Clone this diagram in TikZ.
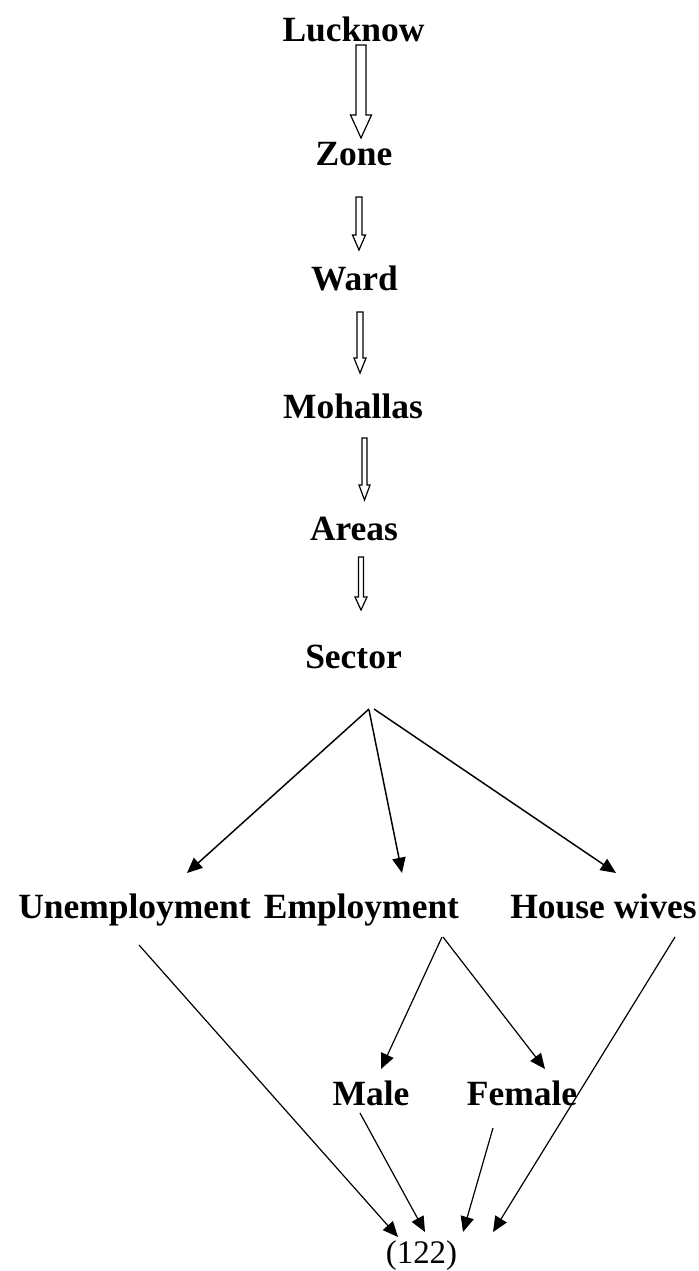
\documentclass[tikz,border=0pt]{standalone}
\usepackage{fontspec}
\setmainfont{Liberation Serif}
\usetikzlibrary{arrows.meta,calc}

% hollow downward block arrow: #1 top, #2 tip, #3 shaft half width,
% #4 head half width, #5 head length
\newcommand\hollowdown[5]{%
  \draw[hollow] ($(#1)+(-#3,0)$) -- ($(#1)+(#3,0)$) -- ($(#2)+(#3,-#5)$)
    -- ($(#2)+(#4,-#5)$) -- (#2) -- ($(#2)+(-#4,-#5)$)
    -- ($(#2)+(-#3,-#5)$) -- cycle;}

\begin{document}
\begin{tikzpicture}[x=0.75pt,y=-0.75pt,
  level/.style={font=\fontsize{26.6}{30}\selectfont\bfseries, inner sep=0pt, anchor=base},
  pagenum/.style={font=\fontsize{24.7}{28}\selectfont, inner sep=0pt, anchor=base},
  link/.style={line width=0.9pt, -{Triangle[length=11.5pt,width=10pt]}},
  thicklink/.style={link, line width=1.1pt},
  hollow/.style={line width=0.9pt, line join=miter}]

\useasboundingbox (0,0) rectangle (699,1271);

% hierarchy labels
\node[level] (lucknow)  at (353.5,41)  {Lucknow};
\node[level] (zone)     at (354,165)   {Zone};
\node[level] (ward)     at (354.5,290) {Ward};
\node[level] (mohallas) at (353,418)   {Mohallas};
\node[level] (areas)    at (354,540)   {Areas};
\node[level] (sector)   at (353.5,668) {Sector};

\node[level] (unemp)  at (134.5,918) {Unemployment};
\node[level] (emp)    at (361.5,918) {Employment};
\node[level] (house)  at (603.5,918) {House wives};

\node[level] (male)   at (371,1105) {Male};
\node[level] (female) at (522,1105) {Female};

\node[pagenum] (total) at (421.5,1263) {(122)};

% hollow block arrows between the upper levels
\coordinate (a1s) at (361,45);    \coordinate (a1e) at (361,138);
\coordinate (a2s) at (359,197);   \coordinate (a2e) at (359,250);
\coordinate (a3s) at (360,312);   \coordinate (a3e) at (360,373);
\coordinate (a4s) at (364.5,438); \coordinate (a4e) at (364.5,500);
\coordinate (a5s) at (361,557);   \coordinate (a5e) at (361,610);
\hollowdown{a1s}{a1e}{5}{10.5}{23}
\hollowdown{a2s}{a2e}{3}{6.5}{15}
\hollowdown{a3s}{a3e}{3}{6}{15}
\hollowdown{a4s}{a4e}{2.5}{5.5}{15}
\hollowdown{a5s}{a5e}{2.5}{6}{13}

% sector split
\coordinate (sl) at (369,709);
\coordinate (sm) at (369,710);
\coordinate (sr) at (374,709);
\coordinate (tu) at (187,873);
\coordinate (te) at (402,873);
\coordinate (th) at (616,873);
\draw[thicklink] (sl) -- (tu);
\draw[thicklink] (sm) -- (te);
\draw[thicklink] (sr) -- (th);

% employment split
\coordinate (el) at (442,937);
\coordinate (er) at (443,937);
\coordinate (tm) at (381,1069);
\coordinate (tf) at (545,1069);
\draw[link] (el) -- (tm);
\draw[link] (er) -- (tf);

% everything converges on the total
\coordinate (us) at (139,945);  \coordinate (ut) at (398,1237);
\coordinate (ms) at (360,1113); \coordinate (mt) at (425,1232);
\coordinate (fs) at (493,1128); \coordinate (ft) at (463,1232);
\coordinate (hs) at (675,937);  \coordinate (ht) at (493,1232);
\draw[link] (us) -- (ut);
\draw[link] (ms) -- (mt);
\draw[link] (fs) -- (ft);
\draw[link] (hs) -- (ht);
\end{tikzpicture}
\end{document}
